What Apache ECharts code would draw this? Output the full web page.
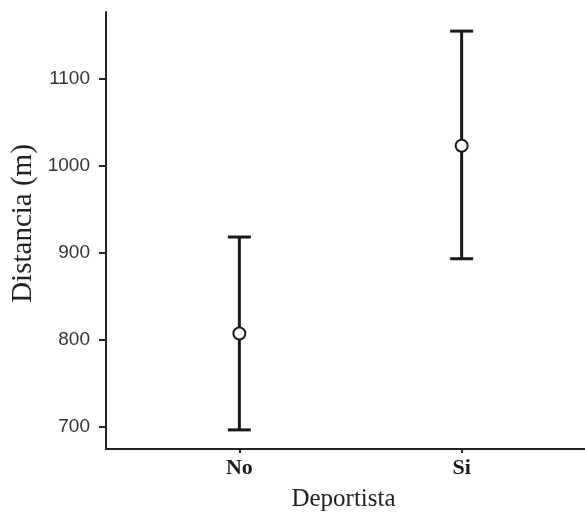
<!DOCTYPE html>
<html>
<head>
<meta charset="utf-8">
<script src="https://cdn.jsdelivr.net/npm/echarts@6/dist/echarts.min.js"></script>
<style>
  html, body { margin: 0; padding: 0; background: #fff; }
  #chart { width: 585px; height: 519px; }
</style>
</head>
<body>
<div id="chart"></div>
<script>
// datos
const categories = ["No", "Si"];
const means = [807, 1023];
const lower = [696, 893];
const upper = [918, 1155];
const yTicks = [700, 800, 900, 1000, 1100];

const xPos = categories.map((c, i) => i + 1);

const chart = echarts.init(document.getElementById("chart"));

const barData = xPos.map((x, i) => [x, lower[i], upper[i]]);
const pointData = xPos.map((x, i) => [x, means[i]]);

const option = {
  animation: false,
  backgroundColor: "#fff",
  grid: { left: 106, right: -10, top: 12, bottom: 70, containLabel: false, outerBoundsMode: "none" },
  xAxis: {
    type: "value",
    min: 0.4,
    max: 2.6,
    name: "Deportista",
    nameLocation: "middle",
    nameGap: 38,
    nameTextStyle: { fontFamily: "Liberation Serif", fontSize: 25, color: "#222", padding: [0, 14, 0, 0] },
    axisLine: { show: true, lineStyle: { color: "#222", width: 2 } },
    axisTick: { show: true, customValues: xPos, length: 4, lineStyle: { color: "#222", width: 2 } },
    axisLabel: {
      customValues: xPos,
      formatter: (v) => categories[Math.round(v) - 1] || "",
      fontFamily: "Liberation Serif",
      fontSize: 22,
      fontWeight: "bold",
      color: "#1a1a1a",
      margin: 8,
    },
    splitLine: { show: false },
  },
  yAxis: {
    type: "value",
    min: 674,
    max: 1177,
    name: "Distancia (m)",
    nameLocation: "middle",
    nameGap: 68,
    nameMoveOverlap: false,
    nameTextStyle: { fontFamily: "Liberation Serif", fontSize: 29, color: "#222", padding: [0, 0, 0, 14] },
    axisLine: { show: true, lineStyle: { color: "#222", width: 2 } },
    axisTick: { show: true, customValues: yTicks, length: 7, lineStyle: { color: "#222", width: 2 } },
    axisLabel: {
      customValues: yTicks,
      formatter: (v) => String(v),
      fontFamily: "Liberation Sans",
      fontSize: 19,
      color: "#333",
      margin: 16,
    },
    splitLine: { show: false },
  },
  series: [
    {
      type: "custom",
      data: barData,
      renderItem: (params, api) => {
        const x = api.value(0);
        const lo = api.coord([x, api.value(1)]);
        const hi = api.coord([x, api.value(2)]);
        const half = 11.5;
        const style = { stroke: "#1a1a1a", lineWidth: 3 };
        return {
          type: "group",
          children: [
            { type: "line", shape: { x1: lo[0], y1: lo[1], x2: hi[0], y2: hi[1] }, style },
            { type: "line", shape: { x1: hi[0] - half, y1: hi[1], x2: hi[0] + half, y2: hi[1] }, style },
            { type: "line", shape: { x1: lo[0] - half, y1: lo[1], x2: lo[0] + half, y2: lo[1] }, style },
          ],
        };
      },
      z: 2,
    },
    {
      type: "scatter",
      data: pointData,
      symbol: "circle",
      symbolSize: 12,
      itemStyle: { color: "#fff", opacity: 1, borderColor: "#1a1a1a", borderWidth: 2 },
      z: 3,
    },
  ],
};

chart.setOption(option);
</script>
</body>
</html>
